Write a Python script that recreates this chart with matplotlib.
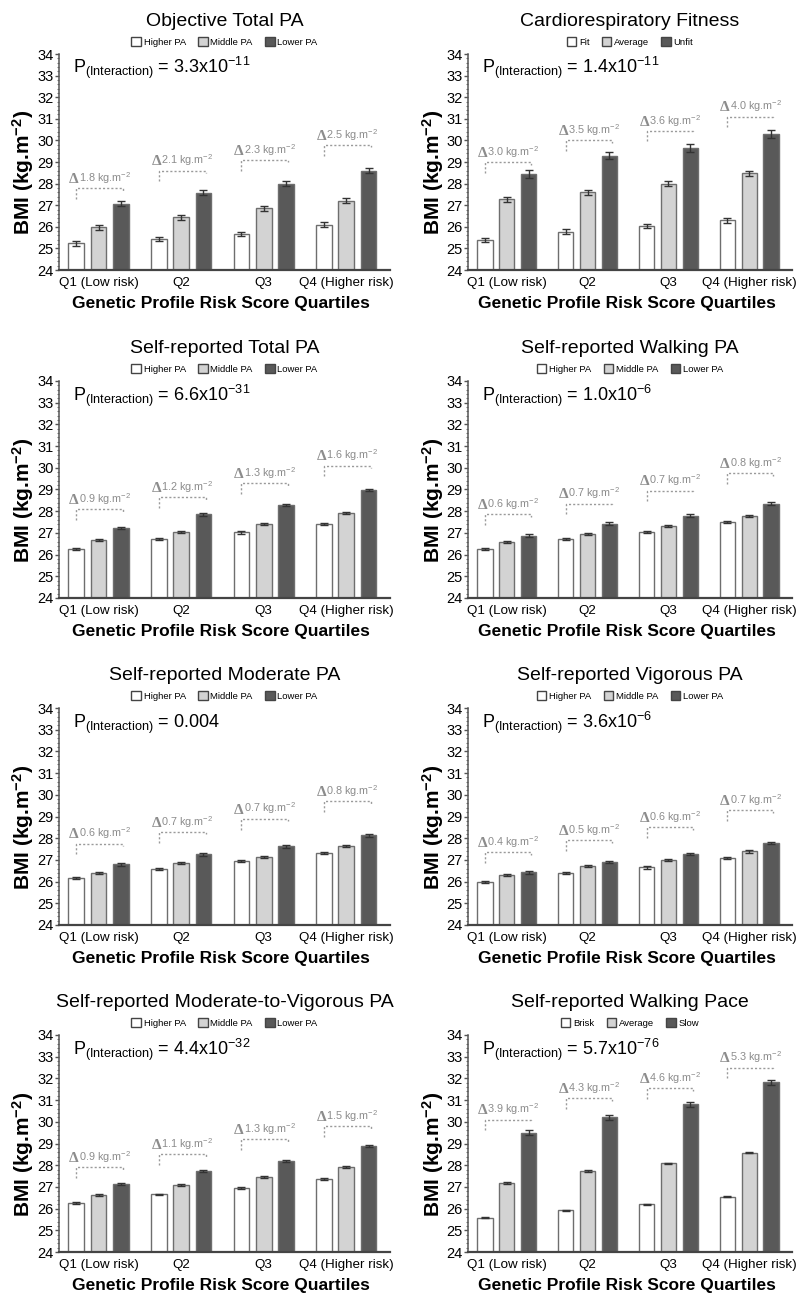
import numpy as np
import matplotlib.pyplot as plt
from matplotlib.patches import Patch
from matplotlib.ticker import MultipleLocator

plt.rcParams['font.family'] = ['Liberation Sans', 'DejaVu Sans']
plt.rcParams['mathtext.default'] = 'regular'

quartiles = ['Q1 (Low risk)', 'Q2', 'Q3', 'Q4 (Higher risk)']
pa_levels = ['Higher PA', 'Middle PA', 'Lower PA']
fit_levels = ['Fit', 'Average', 'Unfit']
pace_levels = ['Brisk', 'Average', 'Slow']

# BMI means: rows = most active / middle / least active group, cols = Q1..Q4
objective_bmi = [[25.23, 25.44, 25.67, 26.10],
                 [25.98, 26.44, 26.85, 27.20],
                 [27.06, 27.58, 28.00, 28.60]]
objective_se = [0.11, 0.12, 0.12]
objective_delta = ['1.8', '2.1', '2.3', '2.5']
objective_p = '3.3x10$^{-11}$'

fitness_bmi = [[25.39, 25.77, 26.04, 26.30],
               [27.27, 27.60, 28.00, 28.48],
               [28.44, 29.30, 29.65, 30.30]]
fitness_se = [0.11, 0.12, 0.17]
fitness_delta = ['3.0', '3.5', '3.6', '4.0']
fitness_p = '1.4x10$^{-11}$'

total_bmi = [[26.26, 26.70, 27.02, 27.42],
             [26.66, 27.06, 27.40, 27.92],
             [27.21, 27.85, 28.30, 28.96]]
total_se = [0.05, 0.05, 0.05]
total_delta = ['0.9', '1.2', '1.3', '1.6']
total_p = '6.6x10$^{-31}$'

walking_bmi = [[26.25, 26.72, 27.05, 27.52],
               [26.58, 26.95, 27.30, 27.77],
               [26.88, 27.43, 27.80, 28.35]]
walking_se = [0.05, 0.05, 0.06]
walking_delta = ['0.6', '0.7', '0.7', '0.8']
walking_p = '1.0x10$^{-6}$'

moderate_bmi = [[26.15, 26.57, 26.95, 27.33],
                [26.38, 26.87, 27.15, 27.63],
                [26.80, 27.25, 27.63, 28.13]]
moderate_se = [0.05, 0.05, 0.06]
moderate_delta = ['0.6', '0.7', '0.7', '0.8']
moderate_p = '0.004'

vigorous_bmi = [[26.00, 26.38, 26.65, 27.07],
                [26.30, 26.72, 27.00, 27.40],
                [26.42, 26.90, 27.27, 27.77]]
vigorous_se = [0.05, 0.06, 0.06]
vigorous_delta = ['0.4', '0.5', '0.6', '0.7']
vigorous_p = '3.6x10$^{-6}$'

mvpa_bmi = [[26.27, 26.65, 26.95, 27.35],
            [26.62, 27.08, 27.47, 27.93],
            [27.15, 27.75, 28.20, 28.87]]
mvpa_se = [0.04, 0.04, 0.05]
mvpa_delta = ['0.9', '1.1', '1.3', '1.5']
mvpa_p = '4.4x10$^{-32}$'

pace_bmi = [[25.58, 25.92, 26.20, 26.55],
            [27.18, 27.72, 28.08, 28.58],
            [29.50, 30.20, 30.80, 31.82]]
pace_se = [0.03, 0.04, 0.11]
pace_delta = ['3.9', '4.3', '4.6', '5.3']
pace_p = '5.7x10$^{-76}$'

# height of the dotted delta brackets (layout)
objective_bracket = [27.8, 28.6, 29.1, 29.8]
fitness_bracket = [29.0, 30.0, 30.45, 31.1]
total_bracket = [28.1, 28.65, 29.3, 30.1]
walking_bracket = [27.85, 28.35, 28.95, 29.75]
moderate_bracket = [27.75, 28.3, 28.9, 29.7]
vigorous_bracket = [27.35, 27.9, 28.5, 29.3]
mvpa_bracket = [27.9, 28.5, 29.2, 29.8]
pace_bracket = [30.1, 31.1, 31.55, 32.5]

panels = [
    ('Objective Total PA', pa_levels, objective_bmi, objective_se, objective_delta, objective_p, objective_bracket),
    ('Cardiorespiratory Fitness', fit_levels, fitness_bmi, fitness_se, fitness_delta, fitness_p, fitness_bracket),
    ('Self-reported Total PA', pa_levels, total_bmi, total_se, total_delta, total_p, total_bracket),
    ('Self-reported Walking PA', pa_levels, walking_bmi, walking_se, walking_delta, walking_p, walking_bracket),
    ('Self-reported Moderate PA', pa_levels, moderate_bmi, moderate_se, moderate_delta, moderate_p, moderate_bracket),
    ('Self-reported Vigorous PA', pa_levels, vigorous_bmi, vigorous_se, vigorous_delta, vigorous_p, vigorous_bracket),
    ('Self-reported Moderate-to-Vigorous PA', pa_levels, mvpa_bmi, mvpa_se, mvpa_delta, mvpa_p, mvpa_bracket),
    ('Self-reported Walking Pace', pace_levels, pace_bmi, pace_se, pace_delta, pace_p, pace_bracket),
]

W, H = 798, 1296
fig = plt.figure(figsize=(W / 100, H / 100), dpi=100)

# axes boxes in pixels: (left, right) per column, (top, bottom) per row
cols = [(59, 390), (468, 792)]
rows = [(54, 270), (381, 598), (708, 925), (1035, 1252)]

colors = ['white', '#d3d3d3', '#595959']
edge = '#6e6e6e'
anno = '#8c8c8c'
x = np.arange(4)
off = 0.27
w = 0.19

for n, (title, levels, bmi, se, delta, p, bracket) in enumerate(panels):
    c0, c1 = cols[n % 2]
    r0, r1 = rows[n // 2]
    ax = fig.add_axes([c0 / W, 1 - r1 / H, (c1 - c0) / W, (r1 - r0) / H])

    for k in range(3):
        ax.bar(x + (k - 1) * off, bmi[k], w, color=colors[k], edgecolor=edge, linewidth=1)
        ax.errorbar(x + (k - 1) * off, bmi[k], yerr=se[k], fmt='none', ecolor='#333333',
                    elinewidth=1, capsize=3, capthick=1)

    for i in range(4):
        x0 = x[i] - off
        x1 = x[i] + off + 0.03
        yb = bracket[i]
        ax.plot([x0, x0, x1, x1], [yb - 0.5, yb, yb, yb - 0.12], ls=(0, (1.5, 1.5)),
                color='#9a9a9a', lw=1)
        ax.text(x0 - 0.09, yb + 0.1, '\u0394', family='Liberation Serif', weight='bold',
                fontsize=11, color=anno, va='bottom', ha='left')
        ax.text(x0 + 0.03, yb + 0.1, delta[i] + ' kg.m$^{-2}$', fontsize=7.8, color=anno,
                va='bottom', ha='left')

    ax.set_xlim(-0.48, 3.53)
    ax.set_ylim(24, 34)
    ax.set_yticks(range(24, 35))
    ax.yaxis.set_minor_locator(MultipleLocator(0.2))
    ax.set_xticks(x)
    ax.set_xticklabels(quartiles)
    ax.tick_params(axis='x', length=0, pad=5, labelsize=9.6)
    ax.tick_params(axis='y', which='major', length=3, width=1, pad=1, labelsize=10.5, color='#555555')
    ax.tick_params(axis='y', which='minor', length=1.8, width=0.8, color='#777777')
    for s in ['top', 'right']:
        ax.spines[s].set_visible(False)
    ax.spines['left'].set_color('#555555')
    ax.spines['left'].set_linewidth(1.1)
    ax.spines['bottom'].set_color('#444444')
    ax.spines['bottom'].set_linewidth(1.6)

    ax.set_ylabel('BMI (kg.m$^{-2}$)', fontsize=15, fontweight='bold')
    ax.yaxis.set_label_coords(-0.068, 0.45)
    ax.set_xlabel('Genetic Profile Risk Score Quartiles', fontsize=12.5, fontweight='bold')
    ax.xaxis.set_label_coords(0.49, -0.12)

    ax.text(0.5, 1.15, title, transform=ax.transAxes, ha='center', va='center', fontsize=14)
    ax.text(0.042, 0.91, 'P$_{(Interaction)}$ = ' + p, transform=ax.transAxes,
            ha='left', va='baseline', fontsize=13)

    handles = [Patch(facecolor=colors[k], edgecolor='#444444', label=levels[k]) for k in range(3)]
    ax.legend(handles=handles, ncol=3, loc='center', bbox_to_anchor=(0.5, 1.055),
              frameon=False, fontsize=6.8, handlelength=1.0, handleheight=1.0,
              columnspacing=1.3, handletextpad=0.3, borderpad=0, borderaxespad=0)

fig.savefig('out.png', dpi=100, facecolor='white')
